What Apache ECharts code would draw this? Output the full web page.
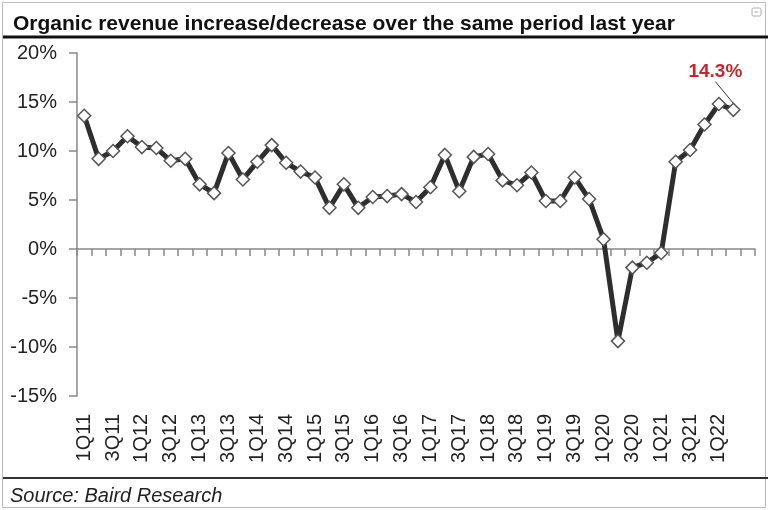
<!DOCTYPE html>
<html>
<head>
<meta charset="utf-8">
<script src="https://cdn.jsdelivr.net/npm/echarts@6/dist/echarts.min.js"></script>
<style>html,body{margin:0;padding:0;background:#fff;}#c{width:768px;height:510px;}</style>
</head>
<body>
<div id="c"></div>
<script>
const categories = ['1Q11','2Q11','3Q11','4Q11','1Q12','2Q12','3Q12','4Q12','1Q13','2Q13','3Q13','4Q13',
  '1Q14','2Q14','3Q14','4Q14','1Q15','2Q15','3Q15','4Q15','1Q16','2Q16','3Q16','4Q16',
  '1Q17','2Q17','3Q17','4Q17','1Q18','2Q18','3Q18','4Q18','1Q19','2Q19','3Q19','4Q19',
  '1Q20','2Q20','3Q20','4Q20','1Q21','2Q21','3Q21','4Q21','1Q22','2Q22','3Q22'];
const revenueGrowth = [13.6, 9.2, 10.0, 11.5, 10.4, 10.3, 9.0, 9.2, 6.6, 5.7, 9.8, 7.1,
  8.9, 10.6, 8.8, 7.9, 7.3, 4.2, 6.6, 4.2, 5.3, 5.4, 5.6, 4.8,
  6.3, 9.6, 5.9, 9.4, 9.7, 7.0, 6.5, 7.8, 4.9, 4.9, 7.3, 5.1,
  1.0, -9.4, -1.9, -1.4, -0.4, 8.9, 10.1, 12.7, 14.8, 14.2, null];
const yTicks = [-15, -10, -5, 0, 5, 10, 15, 20];
const annotationText = '14.3%';
const annotationIndex = 45;

const FONT = 'Liberation Sans, Arial, sans-serif';
const chart = echarts.init(document.getElementById('c'));
const seriesData = revenueGrowth.map((v, i) => i === annotationIndex ? {
  value: v,
  label: {show: true, formatter: annotationText, position: 'top', color: '#c8262c',
    fontSize: 19, fontWeight: 'bold', fontFamily: FONT},
  labelLine: {show: true, lineStyle: {color: '#333', width: 1}}
} : v);

chart.setOption({
  animation: false,
  backgroundColor: '#fff',
  title: {
    text: 'Organic revenue increase/decrease over the same period last year',
    left: 8, top: 9,
    textStyle: {fontSize: 21, fontWeight: 'bold', color: '#111', fontFamily: FONT}
  },
  grid: {left: 77, top: 53, width: 678, height: 343, containLabel: false},
  xAxis: [{
    type: 'category', data: categories, position: 'bottom', boundaryGap: true,
    axisLine: {onZero: true, lineStyle: {color: '#888', width: 1.5}},
    axisTick: {show: true, interval: 0, length: 7, lineStyle: {color: '#888', width: 1.5}},
    axisLabel: {show: false}
  }, {
    type: 'category', data: categories, position: 'bottom', boundaryGap: true,
    axisLine: {show: false, onZero: false}, axisTick: {show: false},
    axisLabel: {show: true, rotate: 90, margin: 18, fontSize: 20, color: '#222', fontFamily: FONT,
      interval: (i) => i % 2 === 0 && i < 45}
  }],
  yAxis: {
    type: 'value', min: yTicks[0], max: yTicks[yTicks.length - 1], interval: 5,
    axisLine: {show: true, lineStyle: {color: '#888', width: 1.5}},
    axisTick: {show: true, length: 8, lineStyle: {color: '#888', width: 1.5}},
    splitLine: {show: false},
    axisLabel: {margin: 20, fontSize: 20, color: '#222', fontFamily: FONT,
      formatter: (v) => v + '%'}
  },
  series: [{
    type: 'line', xAxisIndex: 0, data: seriesData,
    symbol: 'diamond', symbolSize: 13, showAllSymbol: true,
    lineStyle: {color: '#2e2e2e', width: 5},
    itemStyle: {color: '#fff', borderColor: '#555', borderWidth: 1.5},
    labelLayout: (p) => p.dataIndex === annotationIndex ? {dx: -18, dy: -16} : null,
    z: 3
  }],
  graphic: [
    {type: 'rect', shape: {x: 2.5, y: 2.5, width: 763, height: 505}, style: {fill: null, stroke: '#bbb', lineWidth: 1}, silent: true},
    {type: 'line', shape: {x1: 3, y1: 37, x2: 768, y2: 37}, style: {stroke: '#111', lineWidth: 3}},
    {type: 'line', shape: {x1: 3, y1: 478, x2: 768, y2: 478}, style: {stroke: '#333', lineWidth: 2}},
    {type: 'text', left: 10, top: 486, style: {text: 'Source: Baird Research', font: 'italic 20px ' + FONT, fill: '#222'}},
    {type: 'rect', shape: {x: 752, y: 8, width: 9, height: 8, r: 1.5}, style: {fill: '#fff', stroke: '#aaa', lineWidth: 1}},
    {type: 'line', shape: {x1: 754.5, y1: 12, x2: 758.5, y2: 12}, style: {stroke: '#aaa', lineWidth: 1}}
  ]
});
</script>
</body>
</html>
